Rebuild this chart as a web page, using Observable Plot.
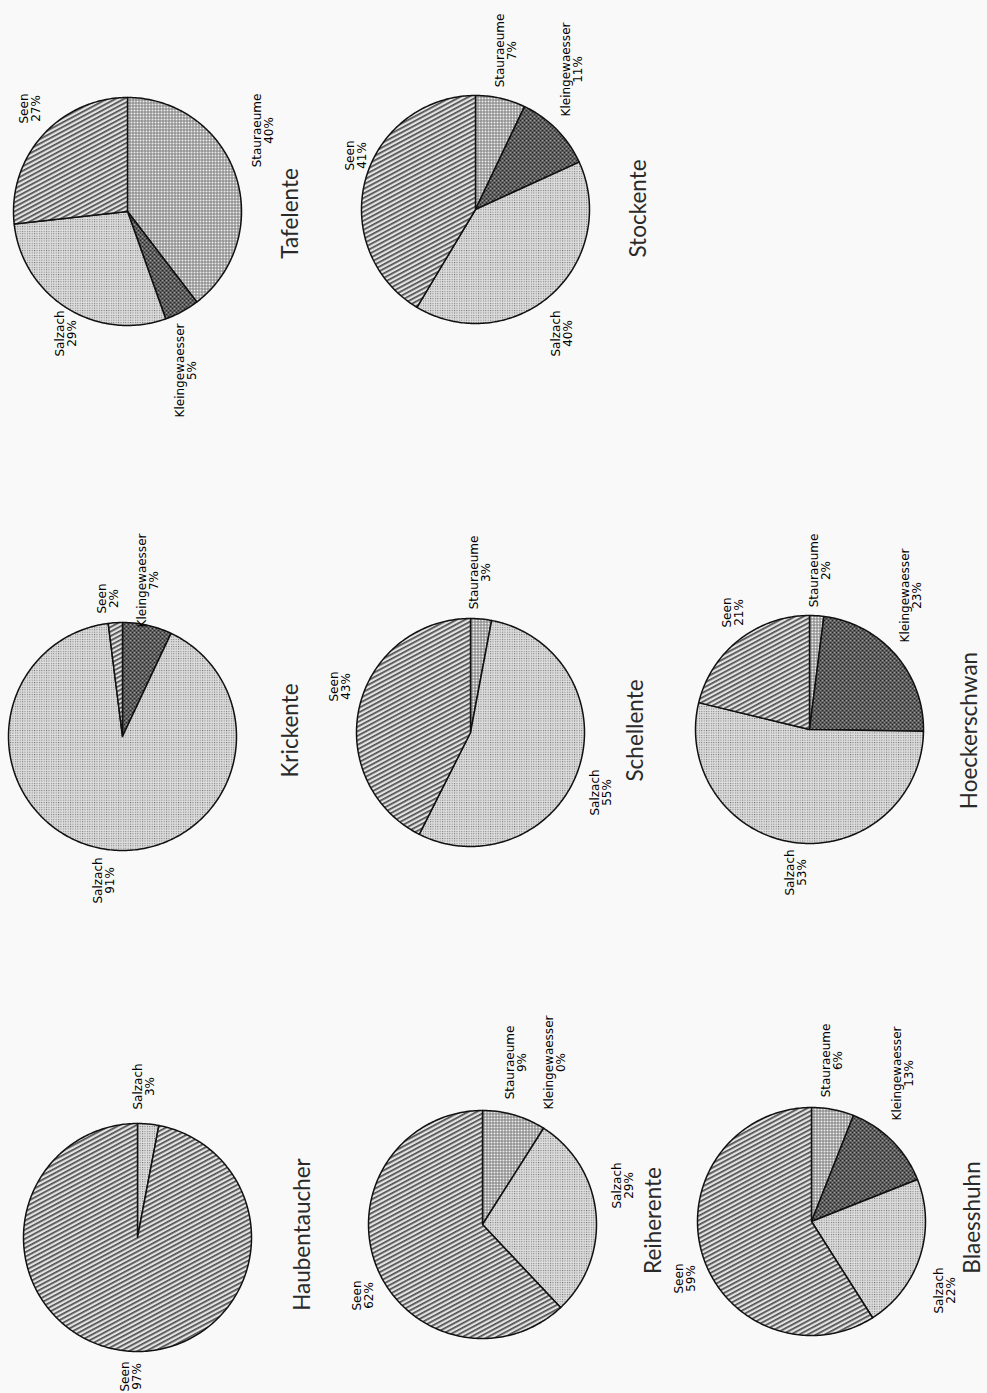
<!DOCTYPE html>
<html>
<head>
<meta charset="utf-8">
<script src="https://cdn.jsdelivr.net/npm/d3@7"></script>
<script src="https://cdn.jsdelivr.net/npm/@observablehq/plot@0.6"></script>
<style>
  body { margin: 0; background: #f9f9f9; }
  #chart svg { display: block; }
</style>
</head>
<body>
<div id="chart"></div>
<script>
// ---------- DATA (shares of each habitat type, %) ----------
const species = ["Tafelente", "Stockente", "Krickente", "Schellente", "Hoeckerschwan", "Haubentaucher", "Reiherente", "Blaesshuhn"];
const categories = ["Stauraeume", "Kleingewaesser", "Salzach", "Seen"];
// null = category not present in that chart (no slice, no label)
const stauraeume     = [40,  7, null,  3,  2, null,  9,  6];
const kleingewaesser = [ 5, 11,    7, null, 23, null,  0, 13];
const salzach        = [29, 40,   91, 55, 53,    3, 29, 22];
const seen           = [27, 41,    2, 43, 21,   97, 62, 59];

// ---------- LAYOUT (page positions of the rotated scan) ----------
const pieCenters = [[127, 211], [475, 209], [122, 736], [470, 732], [809, 729], [137, 1237], [482, 1224], [811, 1221]];
const pieRadius = 114;
const titleAnchors = [[290, 213], [638, 208], [290, 730], [635, 730], [969, 730], [302, 1234], [653, 1220], [972, 1217]];
const labelAnchors = {
  Stauraeume:     [[263, 130], [506, 50], null, [480, 572], [820, 570], null, [516, 1062], [832, 1060]],
  Kleingewaesser: [[186, 370], [572, 69], [148, 580], null, [911, 595], null, [555, 1062], [903, 1073]],
  Salzach:        [[66, 333], [562, 333], [104, 880], [601, 792], [796, 872], [144, 1086], [623, 1185], [945, 1290]],
  Seen:           [[30, 108], [356, 155], [108, 598], [340, 686], [733, 612], [131, 1376], [363, 1295], [685, 1278]]
};

// ---------- build tables ----------
const valuesBy = {Stauraeume: stauraeume, Kleingewaesser: kleingewaesser, Salzach: salzach, Seen: seen};

const slicePoints = [];
const labelRows = [];
species.forEach((sp, i) => {
  const rows = categories.map(c => ({cat: c, v: valuesBy[c][i] ?? 0}));
  const arcs = d3.pie().sort(null).value(d => d.v)(rows);
  const [cx, cy] = pieCenters[i];
  arcs.forEach(a => {
    if (a.endAngle - a.startAngle <= 0) return;
    const id = `${sp}-${a.data.cat}`;
    slicePoints.push({id, cat: a.data.cat, px: cx, py: cy});
    const n = Math.max(2, Math.ceil((a.endAngle - a.startAngle) / (Math.PI / 180)));
    for (let k = 0; k <= n; k++) {
      const t = a.startAngle + (a.endAngle - a.startAngle) * k / n;
      slicePoints.push({id, cat: a.data.cat, px: cx + pieRadius * Math.sin(t), py: cy - pieRadius * Math.cos(t)});
    }
  });
  categories.forEach(c => {
    const v = valuesBy[c][i];
    const pos = labelAnchors[c][i];
    if (v == null || !pos) return;
    labelRows.push({px: pos[0], py: pos[1], text: `${c}\n${v}%`});
  });
});
const titleRows = species.map((sp, i) => ({px: titleAnchors[i][0], py: titleAnchors[i][1], text: sp}));

// ---------- plot ----------
const chart = Plot.plot({
  width: 987,
  height: 1393,
  margin: 0,
  style: {background: "#f9f9f9"},
  x: {domain: [0, 987], range: [0, 987], axis: null},
  y: {domain: [0, 1393], range: [0, 1393], axis: null},
  color: {type: "ordinal", domain: categories, range: categories.map(c => `url(#pat-${c})`)},
  marks: [
    Plot.line(slicePoints, {
      x: "px", y: "py", z: "id", fill: "cat",
      stroke: "#111", strokeWidth: 1.5, strokeLinejoin: "round",
      curve: "linear-closed"
    }),
    Plot.text(labelRows, {
      x: "px", y: "py", text: "text", rotate: -90,
      fontSize: 12, fontFamily: "DejaVu Sans", lineHeight: 0.95,
      fill: "#000"
    }),
    Plot.text(titleRows, {
      x: "px", y: "py", text: "text", rotate: -90,
      fontSize: 22.5, fontFamily: "Lato", fill: "#2a2a2a"
    })
  ]
});

// patterns imitating the printed textures
const svgEl = chart.tagName.toLowerCase() === "svg" ? chart : chart.querySelector("svg");
const defs = d3.select(svgEl).insert("defs", ":first-child");

// Seen: diagonal hatching
const pSeen = defs.append("pattern").attr("id", "pat-Seen").attr("patternUnits", "userSpaceOnUse")
  .attr("width", 4).attr("height", 4).attr("patternTransform", "rotate(-28)");
pSeen.append("rect").attr("width", 4).attr("height", 4).attr("fill", "#e2e2e2");
pSeen.append("rect").attr("y", 0).attr("width", 4).attr("height", 1.7).attr("fill", "#4e4e4e");

// Salzach: light stipple
const pSal = defs.append("pattern").attr("id", "pat-Salzach").attr("patternUnits", "userSpaceOnUse")
  .attr("width", 2.4).attr("height", 2.4);
pSal.append("rect").attr("width", 2.4).attr("height", 2.4).attr("fill", "#dcdcdc");
pSal.append("rect").attr("width", 1).attr("height", 1).attr("fill", "#777");

// Stauraeume: fine grid
const pSt = defs.append("pattern").attr("id", "pat-Stauraeume").attr("patternUnits", "userSpaceOnUse")
  .attr("width", 3).attr("height", 3);
pSt.append("rect").attr("width", 3).attr("height", 3).attr("fill", "#efefef");
pSt.append("rect").attr("width", 3).attr("height", 1).attr("fill", "#7c7c7c");
pSt.append("rect").attr("width", 1).attr("height", 3).attr("fill", "#7c7c7c");

// Kleingewaesser: dark cross-hatch
const pKl = defs.append("pattern").attr("id", "pat-Kleingewaesser").attr("patternUnits", "userSpaceOnUse")
  .attr("width", 4).attr("height", 4);
pKl.append("rect").attr("width", 4).attr("height", 4).attr("fill", "#8a8a8a");
pKl.append("path").attr("d", "M0,0L4,4M4,0L0,4").attr("stroke", "#262626").attr("stroke-width", 1);
pKl.append("rect").attr("x", 1.5).attr("y", 0).attr("width", 1).attr("height", 1).attr("fill", "#d0d0d0");

document.getElementById("chart").appendChild(chart);
</script>
</body>
</html>
